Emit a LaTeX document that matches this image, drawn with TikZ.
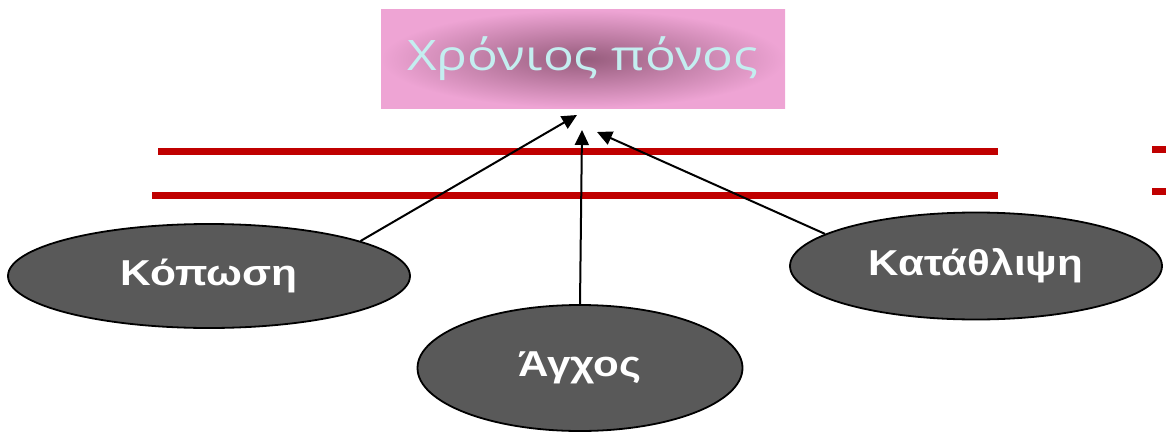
\documentclass[tikz,border=0pt]{standalone}
\usepackage{fontspec}
\usepackage{graphicx}
\setmainfont{Liberation Sans}
\newfontfamily\titlefont{Open Sans}
\usetikzlibrary{shapes.geometric,arrows.meta}
\definecolor{redline}{RGB}{192,0,0}
\definecolor{ellfill}{RGB}{89,89,89}
\definecolor{pinkout}{RGB}{238,164,212}
\definecolor{pinkin}{RGB}{150,92,124}
\definecolor{titletext}{RGB}{196,238,240}
\newcommand{\widetxt}[2]{\scalebox{#1}[1]{#2}}
\tikzset{
  cause/.style={ellipse, draw=black, line width=1.8pt, fill=ellfill, inner sep=0pt,
    text=white, font=\bfseries\fontsize{36}{40}\selectfont},
  titlebox/.style={rectangle, inner sep=0pt, shading=radial, inner color=pinkin, outer color=pinkout,
    minimum width=404pt, minimum height=98pt, text=titletext, font=\titlefont\fontsize{42}{46}\selectfont},
  barline/.style={draw=redline, line width=7pt},
  link/.style={draw=black, line width=2pt, -{Triangle[length=15pt,width=14pt]}}
}
\begin{document}
\begin{tikzpicture}[x=1pt,y=-1pt]
\useasboundingbox (0,0) rectangle (1166,436);
\node[titlebox] (title) at (583,59) {\raisebox{8pt}{\widetxt{1.22}{Χρόνιος πόνος}}};
\coordinate (l1a) at (158,151); \coordinate (l1b) at (998,151);
\coordinate (l2a) at (152,195); \coordinate (l2b) at (998,195);
\coordinate (r1a) at (1152,149); \coordinate (r1b) at (1166,149);
\coordinate (r2a) at (1152,191); \coordinate (r2b) at (1166,191);
\draw[barline] (l1a) -- (l1b);
\draw[barline] (l2a) -- (l2b);
\draw[barline] (r1a) -- (r1b);
\draw[barline] (r2a) -- (r2b);
\node[cause, minimum width=402pt, minimum height=104pt] (kop) at (209,276) {\widetxt{1.18}{Κόπωση}};
\node[cause, minimum width=325pt, minimum height=126pt] (agx) at (580,368) {\widetxt{1.17}{Άγχος}};
\node[cause, minimum width=372pt, minimum height=107pt] (kat) at (976,266) {\widetxt{1.17}{Κατάθλιψη}};
\coordinate (t1) at (577,115);
\coordinate (t2) at (582,130);
\coordinate (t3) at (597,132);
\draw[link] (kop.13.5) -- (t1);
\draw[link] (agx.north) -- (t2);
\draw[link] (kat.168) -- (t3);
\end{tikzpicture}
\end{document}
